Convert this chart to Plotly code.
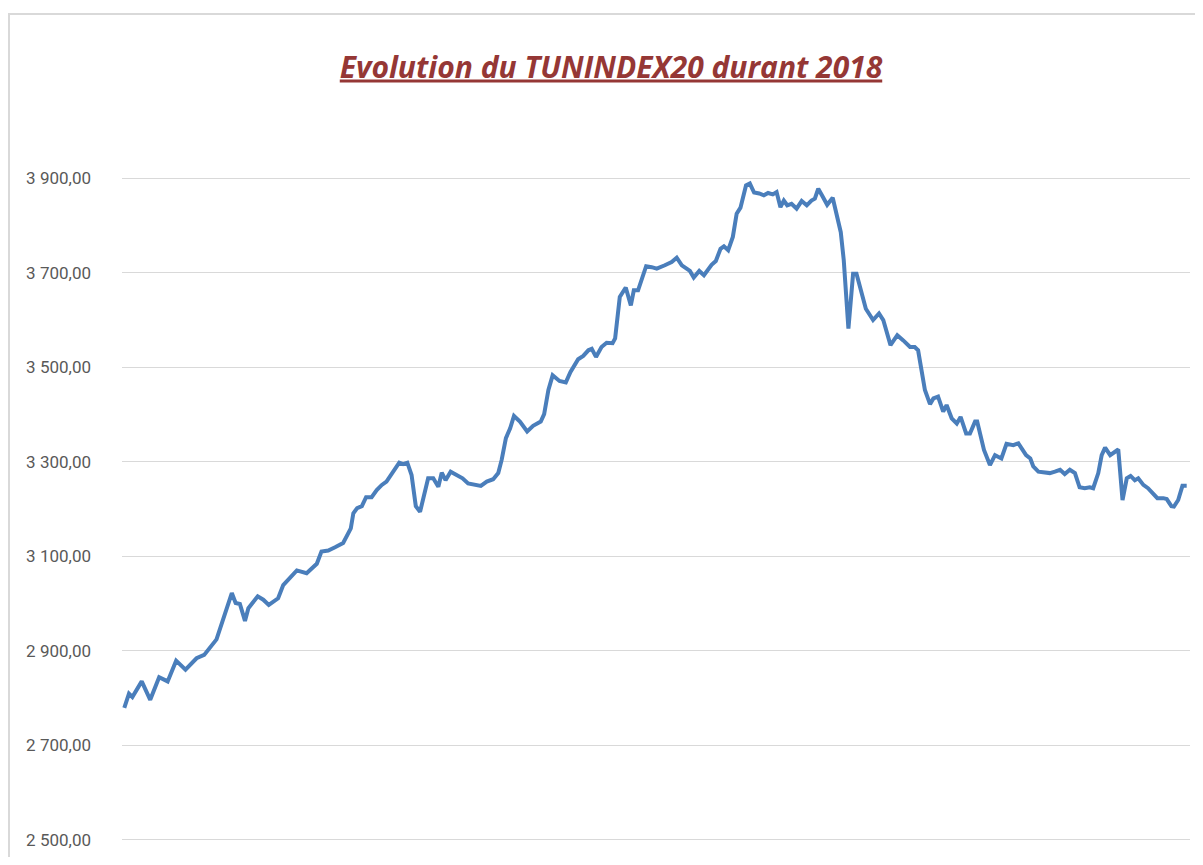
import plotly.graph_objects as go

# Trading-session position (0 = first session of 2018) and TUNINDEX20 closing level
sessions = [0, 1.1, 1.9, 4.1, 6.1, 8.2, 10.2, 12.2, 14.4, 17.0, 18.8, 20.6, 21.7, 23.1, 25.3, 26.2,
            27.2, 28.4, 29.2, 31.4, 32.7, 34.0, 36.2, 37.4, 40.6, 42.9, 45.3, 46.4, 48.0, 49.6,
            51.5, 53.3, 53.9, 54.8, 55.9, 56.9, 58.2, 59.4, 60.6, 61.7, 62.9, 64.7, 65.6, 66.6,
            67.6, 68.6, 69.6, 70.5, 71.5, 72.7, 73.9, 74.7, 75.6, 76.8, 78.2, 79.6, 80.9, 82.5,
            83.9, 85.3, 86.8, 88.0, 88.8, 89.8, 90.8, 91.7, 93.1, 94.8, 96.2, 98.0, 98.8, 99.8,
            100.8, 102.4, 103.9, 105.0, 106.8, 108.0, 109.2, 110.0, 111.0, 112.3, 113.5, 114.9,
            115.5, 116.6, 118.0, 119.2, 119.9, 120.9, 122.8, 124.1, 125.3, 127.2, 128.8, 130.0,
            131.2, 133.1, 134.0, 135.3, 136.4, 138.2, 139.2, 140.3, 141.1, 142.1, 143.2, 144.1,
            145.0, 146.3, 147.2, 148.2, 149.4, 150.5, 151.5, 152.6, 153.5, 154.4, 155.2, 156.0,
            157.0, 158.2, 159.4, 160.6, 161.7, 162.5, 163.3, 164.3, 165.4, 166.7, 167.6, 168.6,
            169.3, 170.4, 171.5, 172.3, 174.5, 176.2, 177.6, 178.6, 180.3, 181.9, 183.3, 184.9,
            186.0, 186.8, 188.4, 189.6, 190.4, 191.5, 192.7, 193.5, 194.7, 195.9, 196.8, 198.1,
            199.0, 200.2, 200.7, 202.3, 203.7, 204.9, 206.4, 207.6, 209.2, 210.4, 211.2, 212.2,
            213.2, 213.9, 215.1, 216.6, 217.8, 219.0, 220.2, 221.3, 222.5, 223.7, 224.8, 226.0,
            227.2, 228.0, 229.2, 230.0, 230.8, 232.0, 232.9, 233.9, 234.9, 235.9, 236.8, 237.8,
            238.6, 239.8, 240.9, 242.1, 243.1, 244.5, 245.3, 246.4, 247.0, 248.0, 249.0, 250.0]

index_values = [2779, 2809, 2802, 2835, 2796, 2844, 2835, 2879, 2860, 2884, 2891, 2910, 2924, 2962, 3022, 3001,
                2999, 2963, 2990, 3015, 3008, 2997, 3011, 3039, 3070, 3064, 3084, 3110, 3112, 3119,
                3128, 3159, 3191, 3202, 3206, 3225, 3225, 3240, 3251, 3258, 3274, 3298, 3295, 3298,
                3272, 3206, 3194, 3226, 3265, 3265, 3247, 3277, 3261, 3279, 3272, 3265, 3254, 3252,
                3249, 3258, 3263, 3276, 3304, 3350, 3371, 3397, 3385, 3364, 3376, 3385, 3401, 3452,
                3483, 3471, 3468, 3490, 3517, 3524, 3536, 3539, 3522, 3543, 3552, 3551,
                3561, 3649, 3669, 3631, 3663, 3663, 3714, 3712, 3709, 3716, 3723, 3732,
                3716, 3704, 3690, 3704, 3695, 3717, 3725, 3751, 3756, 3748, 3776, 3825,
                3838, 3885, 3889, 3870, 3868, 3864, 3869, 3866, 3871, 3839, 3853, 3843,
                3846, 3836, 3852, 3843, 3853, 3857, 3878, 3862, 3844, 3859, 3825, 3786,
                3727, 3582, 3698, 3698, 3624, 3600, 3614, 3600, 3547, 3568, 3557, 3543,
                3543, 3536, 3452, 3422, 3434, 3438, 3406, 3420, 3392, 3381, 3395, 3360,
                3360, 3385, 3385, 3325, 3293, 3314, 3307, 3338, 3335, 3339, 3328, 3314,
                3307, 3290, 3279, 3277, 3276, 3279, 3283, 3274, 3283, 3276, 3246, 3244,
                3246, 3244, 3276, 3314, 3330, 3314, 3319, 3326, 3219, 3265, 3270, 3261,
                3265, 3251, 3244, 3233, 3223, 3223, 3221, 3206, 3205, 3219, 3249, 3249]

y_ticks = [2500, 2700, 2900, 3100, 3300, 3500, 3700, 3900]
title_text = "Evolution du TUNINDEX20 durant 2018"

# page body has an 8px margin, so the figure is drawn 8px in from the window edge
W, H = 1187, 849
ML, MR, MT, MB = 114, 5, 168, 15

fig = go.Figure()
fig.add_trace(go.Scatter(
    x=sessions, y=index_values, mode="lines",
    line=dict(color="#4A7EBB", width=4),
    hoverinfo="x+y", showlegend=False,
))

pw = W - ML - MR
ph = H - MT - MB
# chart frame (light grey) in paper coordinates
fx0 = (1 - ML) / pw
fx1 = (W + 20 - ML) / pw
fy1 = (H - MB - 6) / ph
fy0 = (H - MB - (H + 20)) / ph
fig.add_shape(type="rect", xref="paper", yref="paper",
              x0=fx0, x1=fx1, y0=fy0, y1=fy1,
              line=dict(color="#D9D9D9", width=2), fillcolor="rgba(0,0,0,0)", layer="below")

fig.update_layout(
    width=W, height=H,
    margin=dict(l=ML, r=MR, t=MT, b=MB),
    paper_bgcolor="white", plot_bgcolor="white",
    separators=", ",
    title=dict(
        text="<u><b><i>" + title_text + "</i></b></u>",
        x=(603 - ML) / pw, xref="paper", xanchor="center",
        y=1 - 59 / H, yref="container", yanchor="middle",
        font=dict(family="Open Sans, Noto Sans, sans-serif", size=30, color="#953735"),
    ),
    xaxis=dict(range=[-0.54, 250.78], showgrid=False, zeroline=False,
               showticklabels=False, showline=False, ticks=""),
    yaxis=dict(range=[2495, 3905], tickvals=y_ticks, tickformat=",.2f",
               showgrid=True, gridcolor="#D9D9D9", gridwidth=1.3, zeroline=False,
               showline=False, ticks="", ticklabelstandoff=30,
               tickfont=dict(family="Liberation Sans Narrow, Roboto, sans-serif", size=17, color="#595959")),
)

fig.write_html("out.html")
